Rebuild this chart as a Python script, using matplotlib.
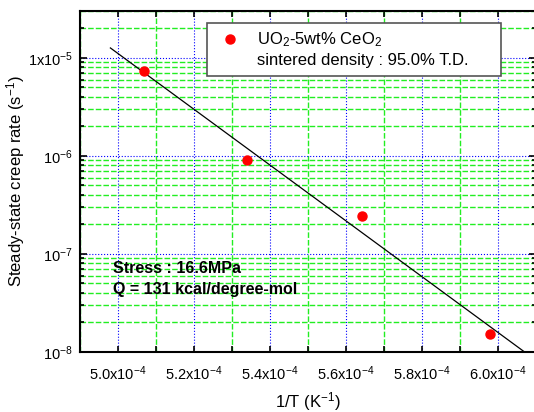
import matplotlib
matplotlib.use('Agg')
import matplotlib.pyplot as plt
from matplotlib.ticker import MultipleLocator, LogLocator, NullFormatter

plt.rcParams['font.family'] = ['Liberation Sans', 'DejaVu Sans']
plt.rcParams['mathtext.fontset'] = 'custom'
plt.rcParams['mathtext.rm'] = 'Liberation Sans'
plt.rcParams['mathtext.it'] = 'Liberation Sans:italic'
plt.rcParams['mathtext.bf'] = 'Liberation Sans:bold'

# data
inv_T = [5.068e-4, 5.339e-4, 5.642e-4, 5.979e-4]
creep_rate = [7.3e-6, 9.1e-7, 2.45e-7, 1.52e-8]
# fitted Arrhenius line (end points)
fit_x = [4.98e-4, 6.07e-4]
fit_y = [1.26e-5, 1.0e-8]

xticks = [5.0e-4, 5.2e-4, 5.4e-4, 5.6e-4, 5.8e-4, 6.0e-4]
xticklabels = ['5.0x$10^{-4}$', '5.2x$10^{-4}$', '5.4x$10^{-4}$',
               '5.6x$10^{-4}$', '5.8x$10^{-4}$', '6.0x$10^{-4}$']
yticks = [1e-8, 1e-7, 1e-6, 1e-5]
yticklabels = ['$10^{-8}$', '$10^{-7}$', '$10^{-6}$', '1x$10^{-5}$']

legend_label = 'UO$_2$-5wt% CeO$_2$'
legend_note = 'sintered density : 95.0% T.D.'
note_lines = ['Stress : 16.6MPa', 'Q = 131 kcal/degree-mol']

fig = plt.figure(figsize=(5.34, 4.12), dpi=100)
ax = fig.add_axes([80/534, 60/412, 456/534, 341/412])

ax.plot(fit_x, fit_y, color='black', lw=0.9)
ax.plot(inv_T, creep_rate, 'o', color='red', ms=6.5, mec='red',
        label=legend_label)
ax.plot([], [], ' ', label=legend_note)

ax.set_yscale('log')
ax.set_xlim(4.9e-4, 6.1e-4)
ax.set_ylim(1e-8, 3e-5)

ax.set_xticks(xticks)
ax.set_xticklabels(xticklabels)
ax.xaxis.set_minor_locator(MultipleLocator(1e-5))
ax.set_yticks(yticks)
ax.set_yticklabels(yticklabels)
ax.yaxis.set_minor_locator(LogLocator(base=10, subs=range(2, 10)))
ax.yaxis.set_minor_formatter(NullFormatter())

ax.tick_params(which='both', direction='in', top=True, right=True,
               labelsize=10.5, width=1.2, color='black')
ax.tick_params(axis='x', which='both', length=4, pad=9)
ax.tick_params(axis='y', which='major', length=5, pad=5)
ax.tick_params(axis='y', which='minor', length=3)

ax.grid(True, which='minor', color='#22ee22', lw=1.0, ls=(0, (4, 1.5)))
ax.grid(True, which='major', color='#0000ff', lw=0.8, ls=':')
ax.set_axisbelow(True)

for s in ax.spines.values():
    s.set_linewidth(1.5)

ax.set_xlabel('1/T (K$^{-1}$)', fontsize=12, labelpad=5)
ax.set_ylabel('Steady-state creep rate (s$^{-1}$)', fontsize=12)
ax.yaxis.set_label_coords(-53/456, 0.5)

ax.text(0.072, 0.244, note_lines[0], transform=ax.transAxes,
        fontsize=11.5, fontweight='bold', va='center')
ax.text(0.072, 0.182, note_lines[1], transform=ax.transAxes,
        fontsize=11.5, fontweight='bold', va='center')

leg = ax.legend(loc='upper left', bbox_to_anchor=(0.2785, 0.812, 0.645, 0.153),
                mode='expand', borderaxespad=0, fancybox=False, numpoints=1,
                fontsize=12, handlelength=1.9, handletextpad=0.63,
                borderpad=0.45, framealpha=1, labelspacing=0.25)
leg.get_frame().set_edgecolor('#555555')
leg.get_frame().set_linewidth(1.2)

fig.savefig('out.png', dpi=100)
